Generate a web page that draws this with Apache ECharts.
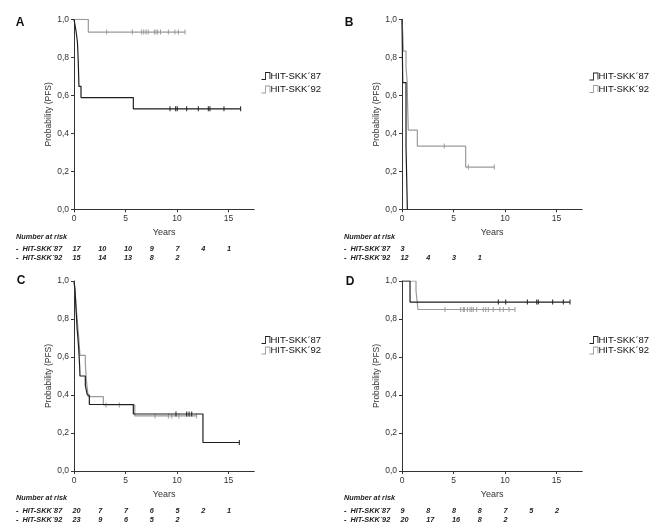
<!DOCTYPE html>
<html><head><meta charset="utf-8">
<script src="https://cdn.jsdelivr.net/npm/echarts@6/dist/echarts.min.js"></script>
<style>html,body{margin:0;padding:0;background:#fff}#c{width:656px;height:531px}</style>
</head><body><div id="c"></div>
<script>
// ---------- data ----------
const groupNames = ['HIT-SKK\u00b487', 'HIT-SKK\u00b492'];
const riskTimes = [0, 2.5, 5, 7.5, 10, 12.5, 15];
const yTicks = [0, 0.2, 0.4, 0.6, 0.8, 1.0];
const xTicks = [0, 5, 10, 15];

// Panel A
const eventsA87 = [[0,1],[0.19,0.941],[0.33,0.882],[0.38,0.824],[0.42,0.765],[0.45,0.706],[0.48,0.647],[0.68,0.588],[5.76,0.529]];
const censorA87 = [[9.32,0.529],[9.87,0.529],[10.02,0.529],[10.94,0.529],[12.07,0.529],[13.04,0.529],[13.2,0.529],[14.56,0.529],[16.18,0.529]];
const eventsA92 = [[0,1],[1.39,0.933]];
const censorA92 = [[3.17,0.933],[5.66,0.933],[6.57,0.933],[6.77,0.933],[6.99,0.933],[7.2,0.933],[7.8,0.933],[7.96,0.933],[8.13,0.933],[8.4,0.933],[9.16,0.933],[9.8,0.933],[10.13,0.933],[10.78,0.933]];
const riskA87 = [17, 10, 10, 9, 7, 4, 1];
const riskA92 = [15, 14, 13, 8, 2];

// Panel B
const eventsB87 = [[0,1],[0.07,0.667],[0.39,0.333],[0.52,0]];
const censorB87 = [];
const eventsB92 = [[0,1],[0.08,0.917],[0.13,0.833],[0.39,0.75],[0.5,0.667],[0.53,0.583],[0.57,0.5],[0.61,0.417],[1.49,0.333],[6.18,0.222]];
const censorB92 = [[4.1,0.333],[6.44,0.222],[8.96,0.222]];
const riskB87 = [3];
const riskB92 = [12, 4, 3, 1];

// Panel C
const eventsC87 = [[0,1],[0.1,0.95],[0.15,0.9],[0.2,0.85],[0.25,0.8],[0.3,0.75],[0.38,0.7],[0.45,0.65],[0.5,0.6],[0.55,0.55],[0.58,0.5],[1.1,0.45],[1.29,0.4],[1.49,0.35],[5.76,0.3],[12.52,0.15]];
const censorC87 = [[9.9,0.3],[10.94,0.3],[11.17,0.3],[11.43,0.3],[16.05,0.15]];
const eventsC92 = [[0,1],[0.1,0.957],[0.15,0.913],[0.2,0.87],[0.27,0.826],[0.33,0.783],[0.4,0.739],[0.47,0.696],[0.52,0.652],[0.58,0.609],[1.1,0.565],[1.15,0.522],[1.2,0.478],[1.29,0.435],[1.38,0.391],[2.85,0.348],[5.9,0.29]];
const censorC92 = [[3.1,0.348],[4.4,0.348],[7.86,0.29],[9.16,0.29],[9.49,0.29],[10.19,0.29],[11.9,0.29]];
const riskC87 = [20, 7, 7, 6, 5, 2, 1];
const riskC92 = [23, 9, 6, 5, 2];

// Panel D
const eventsD87 = [[0,1],[0.78,0.889]];
const censorD87 = [[9.35,0.889],[10.07,0.889],[12.17,0.889],[13.08,0.889],[13.23,0.889],[14.63,0.889],[15.66,0.889],[16.31,0.889]];
const eventsD92 = [[0,1],[1.36,0.95],[1.45,0.9],[1.55,0.85]];
const censorD92 = [[4.17,0.85],[5.7,0.85],[5.95,0.85],[6.05,0.85],[6.34,0.85],[6.6,0.85],[6.77,0.85],[6.92,0.85],[7.25,0.85],[7.89,0.85],[8.13,0.85],[8.38,0.85],[8.86,0.85],[9.51,0.85],[9.83,0.85],[10.39,0.85],[10.97,0.85]];
const riskD87 = [9, 8, 8, 8, 7, 5, 2];
const riskD92 = [20, 17, 16, 8, 2];

// ---------- layout / style ----------
const FONT = '"Liberation Sans", Arial, sans-serif';
const colors = ['#1e1e1e', '#9a9a9a'];
const panels = [
  {label:'A', lx:20, ly:22.5, left:74,  top:19.3, legTop:66, legGap:3.5,
   ev:[eventsA87,eventsA92], ce:[censorA87,censorA92], risk:[riskA87,riskA92]},
  {label:'B', lx:349, ly:22.5, left:402, top:19.3, legTop:66.5, legGap:2.5,
   ev:[eventsB87,eventsB92], ce:[censorB87,censorB92], risk:[riskB87,riskB92]},
  {label:'C', lx:21, ly:281, left:74,  top:281, legTop:330, legGap:0.5,
   ev:[eventsC87,eventsC92], ce:[censorC87,censorC92], risk:[riskC87,riskC92]},
  {label:'D', lx:350, ly:281.5, left:402, top:281, legTop:330, legGap:0.5,
   ev:[eventsD87,eventsD92], ce:[censorD87,censorD92], risk:[riskD87,riskD92]}
];
const GW = 180.25, GH = 190;
const legendIcon = 'path://M0,8H4V0H10V8H9V1H5V9H0Z';

const chart = echarts.init(document.getElementById('c'), null, {renderer:'canvas'});

const grids = [], xAxes = [], yAxes = [], series = [], legends = [];
panels.forEach((p, i) => {
  grids.push({left:p.left, top:p.top, width:GW, height:GH});
  xAxes.push({
    type:'value', gridIndex:i, min:0, max:17.5,
    name:'Years', nameLocation:'middle', nameGap:19,
    nameTextStyle:{fontFamily:FONT, fontSize:9, color:'#333'},
    axisLine:{lineStyle:{color:'#333', width:1}},
    axisTick:{show:true, length:3, lineStyle:{color:'#333'}, customValues:xTicks},
    axisLabel:{fontFamily:FONT, fontSize:8.5, color:'#333', margin:5, customValues:xTicks},
    splitLine:{show:false}
  });
  yAxes.push({
    type:'value', gridIndex:i, min:0, max:1, interval:0.2,
    name:'Probability (PFS)', nameLocation:'middle', nameGap:18,
    nameTextStyle:{fontFamily:FONT, fontSize:8.5, color:'#333'},
    axisLine:{show:true, lineStyle:{color:'#333', width:1}},
    axisTick:{show:true, length:3, lineStyle:{color:'#333'}},
    axisLabel:{fontFamily:FONT, fontSize:8.5, color:'#333', margin:5,
      formatter: v => v.toFixed(1).replace('.', ',')},
    splitLine:{show:false}
  });
  [0,1].forEach(g => {
    const data = p.ev[g].map(pt => ({value:pt, symbol:'none'}))
      .concat(p.ce[g].map(pt => ({value:pt, symbol:'rect', symbolSize:[1,5]})))
      .sort((a,b) => a.value[0] - b.value[0]);
    series.push({
      type:'line', name:groupNames[g], xAxisIndex:i, yAxisIndex:i,
      step:'end', data:data, showAllSymbol:true, symbol:'rect', symbolSize:[1,5],
      color:colors[g], lineStyle:{color:colors[g], width:1.2},
      itemStyle:{color:colors[g]}, z: g === 0 ? 3 : 2,
      animation:false, silent:true
    });
  });
  legends.push({
    left:p.left + 182.5, top:p.legTop, orient:'vertical', itemGap:p.legGap,
    itemWidth:9, itemHeight:8, itemGap2:0, icon:legendIcon,
    data:groupNames, selectedMode:false,
    textStyle:{fontFamily:FONT, fontSize:9.5, color:'#111', padding:[0,0,0,-5]}
  });
});

chart.setOption({
  animation:false, backgroundColor:'#fff',
  grid:grids, xAxis:xAxes, yAxis:yAxes, series:series, legend:legends
});

// ---------- labels and number-at-risk tables ----------
const graphics = [];
const txt = (x, y, s, style) => graphics.push({type:'text', left:undefined, x:x, y:y,
  style:Object.assign({text:s, fill:'#222', fontFamily:FONT, verticalAlign:'middle'}, style), silent:true});
panels.forEach((p, i) => {
  txt(p.lx, p.ly, p.label, {fontSize:12, fontWeight:'bold', align:'center', fill:'#111'});
  const axisY = chart.convertToPixel({gridIndex:i}, [0, 0])[1];
  const rowLeft = p.left - 58;
  const tblStyle = {fontSize:7.3, fontWeight:'bold', fontStyle:'italic', align:'left'};
  txt(rowLeft, axisY + 27.4, 'Number at risk', tblStyle);
  [0,1].forEach(g => {
    const y = axisY + 40 + g * 9;
    txt(rowLeft, y, '-  ' + groupNames[g], tblStyle);
    p.risk[g].forEach((n, k) => {
      const x = chart.convertToPixel({gridIndex:i}, [riskTimes[k], 0])[0];
      txt(x - 1.5, y, String(n), tblStyle);
    });
  });
});
chart.setOption({graphic:{elements:graphics}});
</script></body></html>
